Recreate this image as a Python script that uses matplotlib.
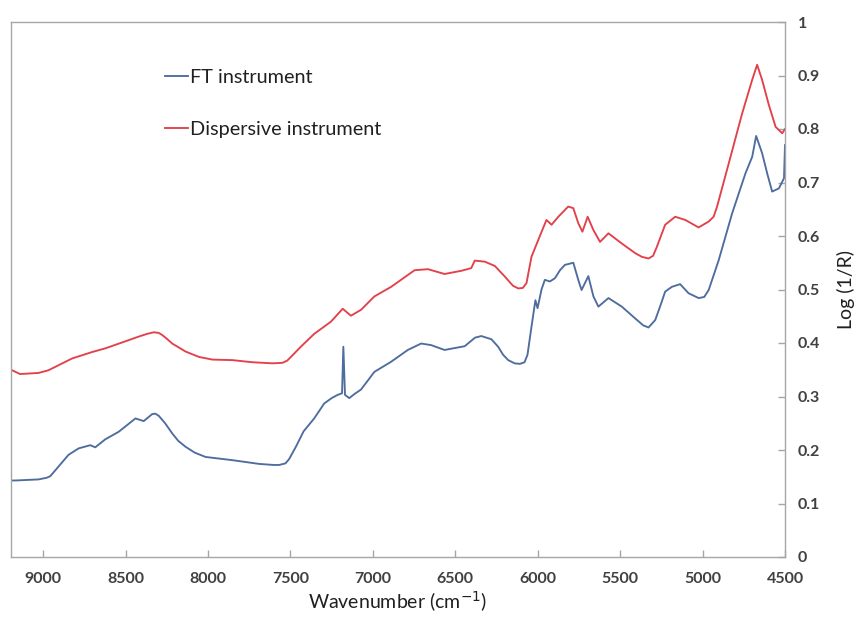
import matplotlib
matplotlib.use("Agg")
import matplotlib.pyplot as plt

# FT instrument spectrum: wavenumber (cm-1) and Log(1/R)
ft_wavenumber = [9195, 9170, 9029, 8980, 8957, 8907, 8846, 8785, 8714, 8684, 8623, 8542,
                 8440, 8390, 8339, 8320, 8299, 8260, 8217, 8180, 8136, 8080, 8015, 7852,
                 7690, 7600, 7569, 7530, 7508, 7467, 7420, 7356, 7295, 7250, 7214, 7187,
                 7179, 7169, 7143, 7110, 7072, 7030, 6991, 6889, 6788, 6707, 6646, 6565,
                 6443, 6380, 6342, 6281, 6240, 6210, 6179, 6140, 6108, 6080, 6062,
                 6038, 6014, 6001, 5977, 5957, 5926, 5896, 5865, 5835, 5784, 5754,
                 5734, 5693, 5662, 5632, 5571, 5490, 5409, 5360, 5328, 5287, 5250, 5227,
                 5186, 5136, 5085, 5024, 4990, 4963, 4902, 4821, 4740, 4699, 4675, 4639,
                 4608, 4578, 4537, 4506, 4500]
ft_logr = [0.143, 0.143, 0.145, 0.148, 0.151, 0.169, 0.191, 0.203, 0.209, 0.205, 0.220, 0.234,
           0.259, 0.254, 0.267, 0.268, 0.264, 0.250, 0.231, 0.217, 0.206, 0.195, 0.187, 0.181,
           0.174, 0.172, 0.172, 0.175, 0.183, 0.206, 0.235, 0.259, 0.287, 0.297, 0.303, 0.306,
           0.393, 0.303, 0.297, 0.305, 0.313, 0.330, 0.346, 0.365, 0.387, 0.399, 0.396, 0.387,
           0.394, 0.410, 0.413, 0.407, 0.393, 0.378, 0.368, 0.362, 0.361, 0.364, 0.378,
           0.430, 0.480, 0.465, 0.500, 0.518, 0.515, 0.521, 0.536, 0.546, 0.550, 0.518,
           0.499, 0.525, 0.487, 0.468, 0.484, 0.468, 0.446, 0.433, 0.429, 0.443, 0.475, 0.496,
           0.505, 0.510, 0.493, 0.484, 0.486, 0.499, 0.555, 0.642, 0.717, 0.748, 0.787, 0.755,
           0.717, 0.683, 0.689, 0.708, 0.770]

# Dispersive instrument spectrum
disp_wavenumber = [9195, 9140, 9029, 8968, 8825, 8704, 8623, 8521, 8420, 8370, 8329, 8300,
                   8278, 8250, 8217, 8136, 8055, 7974, 7852, 7730, 7609, 7548, 7520, 7497,
                   7437, 7356, 7254, 7183, 7133, 7072, 6991, 6889, 6747, 6666, 6565, 6463,
                   6403, 6382, 6321, 6260, 6199, 6150, 6118, 6090, 6068, 6038, 5987, 5947,
                   5916, 5875, 5815, 5784, 5754, 5729, 5697, 5662, 5622, 5571, 5490, 5409,
                   5368, 5328, 5300, 5277, 5227, 5166, 5105, 5024, 4963, 4933, 4912, 4841,
                   4760, 4699, 4669, 4639, 4598, 4557, 4517, 4500]
disp_logr = [0.350, 0.342, 0.344, 0.349, 0.371, 0.383, 0.390, 0.401, 0.412, 0.417, 0.420, 0.419,
             0.415, 0.408, 0.399, 0.384, 0.374, 0.369, 0.368, 0.364, 0.362, 0.363, 0.367, 0.374,
             0.393, 0.417, 0.440, 0.464, 0.451, 0.462, 0.487, 0.505, 0.536, 0.538, 0.529, 0.535,
             0.540, 0.554, 0.552, 0.544, 0.524, 0.507, 0.502, 0.503, 0.512, 0.561, 0.600, 0.630,
             0.621, 0.636, 0.655, 0.652, 0.624, 0.608, 0.636, 0.611, 0.589, 0.605, 0.586, 0.568,
             0.561, 0.558, 0.563, 0.580, 0.621, 0.636, 0.630, 0.616, 0.627, 0.636, 0.655, 0.736,
             0.829, 0.892, 0.920, 0.892, 0.845, 0.804, 0.792, 0.800]

x_ticks = [9000, 8500, 8000, 7500, 7000, 6500, 6000, 5500, 5000, 4500]
y_ticks = [0, 0.1, 0.2, 0.3, 0.4, 0.5, 0.6, 0.7, 0.8, 0.9, 1]
y_ticklabels = ["0", "0.1", "0.2", "0.3", "0.4", "0.5", "0.6", "0.7", "0.8", "0.9", "1"]

plt.rcParams["font.family"] = ["Lato", "DejaVu Sans"]

fig = plt.figure(figsize=(8.61, 6.23), dpi=100)
ax = fig.add_axes([11 / 861, 1 - 557 / 623, 774 / 861, 535 / 623])

ax.plot(ft_wavenumber, ft_logr, color="#4E6C9E", lw=1.35, label="FT instrument")
ax.plot(disp_wavenumber, disp_logr, color="#E2404A", lw=1.35, label="Dispersive instrument")

ax.set_xlim(9195, 4500)
ax.set_ylim(0, 1)
ax.set_xticks(x_ticks)
ax.set_xticklabels([str(t) for t in x_ticks])
ax.set_yticks(y_ticks)
ax.set_yticklabels(y_ticklabels)

ax.yaxis.tick_right()
ax.yaxis.set_label_position("right")

for sp in ax.spines.values():
    sp.set_color("#A6A6A6")
    sp.set_linewidth(1.0)

ax.tick_params(axis="both", direction="in", length=5, width=1, color="#A6A6A6",
               labelcolor="#404040", labelsize=11.5)
ax.tick_params(axis="x", pad=11)
ax.tick_params(axis="y", pad=9)
for lbl in ax.get_xticklabels() + ax.get_yticklabels():
    lbl.set_fontweight("bold")

ax.set_xlabel("Wavenumber (cm$^{-1}$)", fontsize=14, color="#202020", labelpad=2)
ax.set_ylabel("Log (1/R)", fontsize=14, color="#202020", labelpad=12)

leg = ax.legend(loc="upper left", bbox_to_anchor=(0.199, 0.912), frameon=False,
                fontsize=14.3, handlelength=1.15, handletextpad=0.12, labelspacing=1.75,
                borderpad=0, borderaxespad=0)
for t in leg.get_texts():
    t.set_color("#202020")

fig.savefig("out.png", dpi=100)
